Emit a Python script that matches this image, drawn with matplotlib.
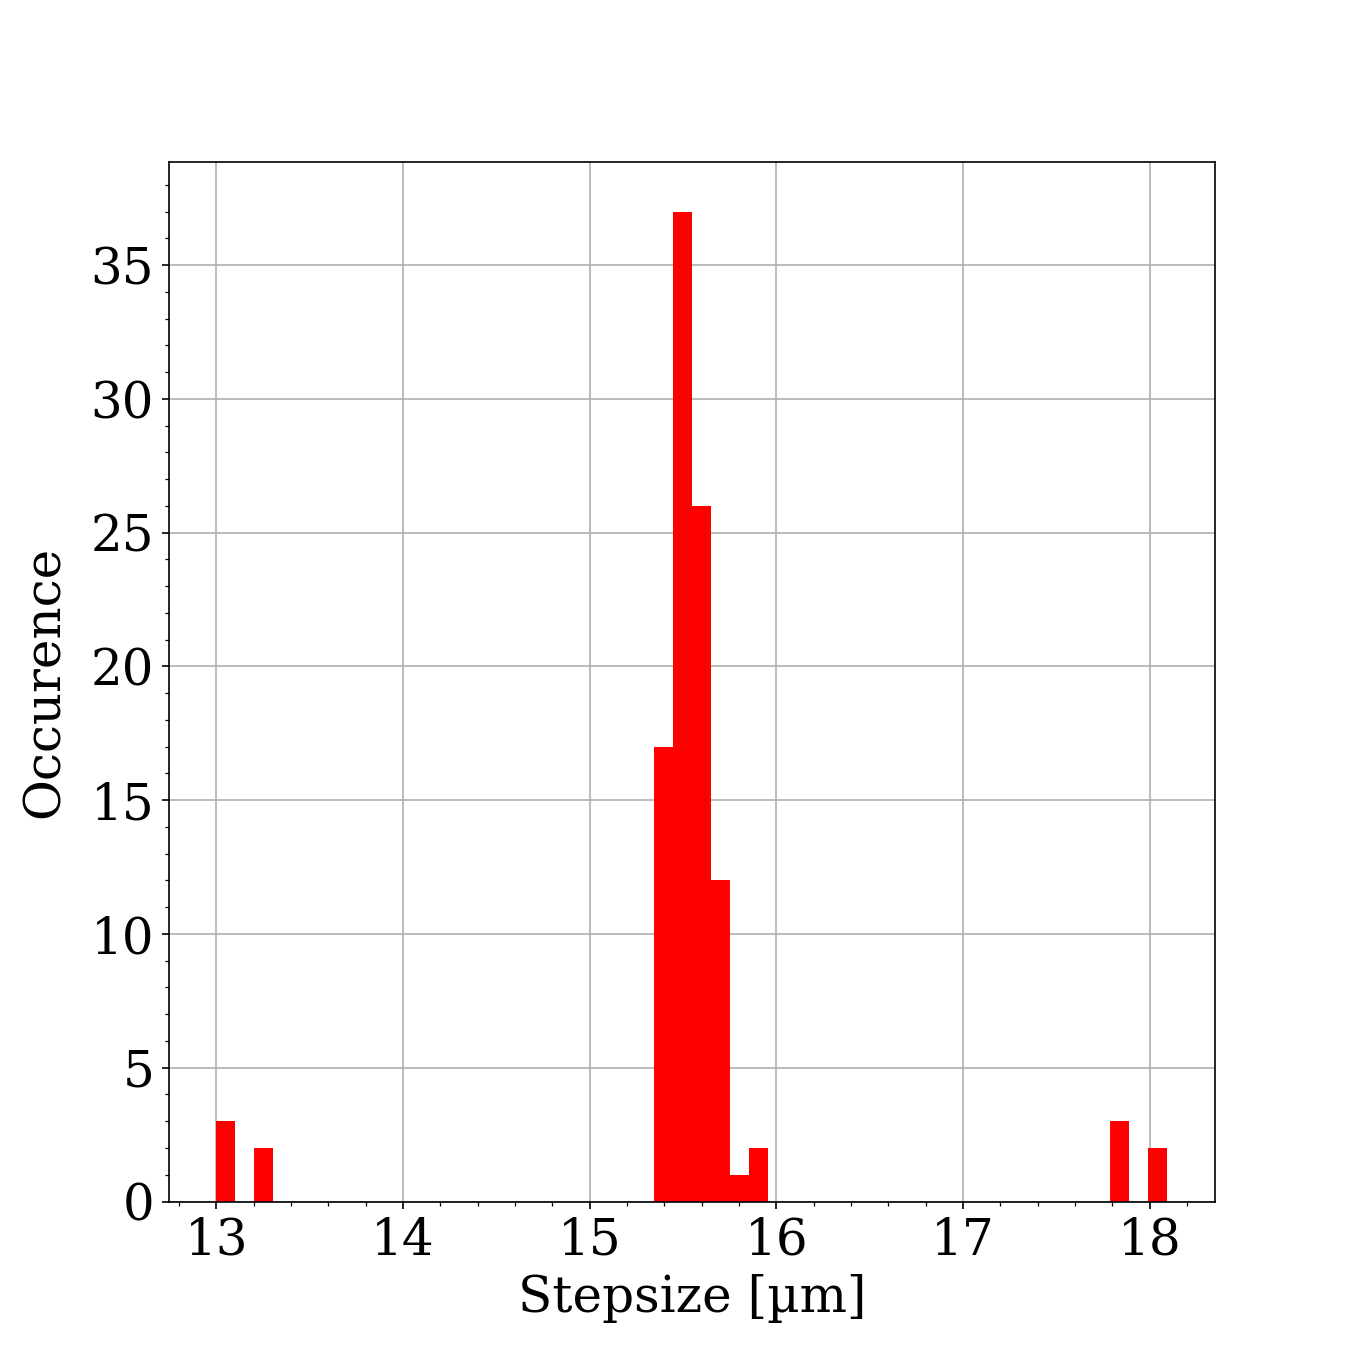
import matplotlib
matplotlib.use('Agg')
import matplotlib.pyplot as plt
import numpy as np
from matplotlib.ticker import AutoMinorLocator

plt.rcParams['font.family'] = 'DejaVu Serif'
plt.rcParams['font.size'] = 24

# Histogram: 50 equal bins between 13.0 and ~18.1 um
bin_start = 13.0
bin_stop = 18.096
n_bins = 50
filled_bins = [0, 2, 23, 24, 25, 26, 27, 28, 47, 49]
filled_counts = [3, 2, 17, 37, 26, 12, 1, 2, 3, 2]

edges = np.linspace(bin_start, bin_stop, n_bins + 1)
counts = np.zeros(n_bins)
counts[filled_bins] = filled_counts

fig, ax = plt.subplots(figsize=(9, 9), dpi=150)
ax.hist(edges[:-1], bins=edges, weights=counts, color='red')

ax.set_xlabel('Stepsize [µm]')
ax.set_ylabel('Occurence', labelpad=10)
ax.xaxis.set_minor_locator(AutoMinorLocator())
ax.yaxis.set_minor_locator(AutoMinorLocator())
ax.grid(True)
ax.set_axisbelow(True)

fig.savefig('out.png', dpi=150)
